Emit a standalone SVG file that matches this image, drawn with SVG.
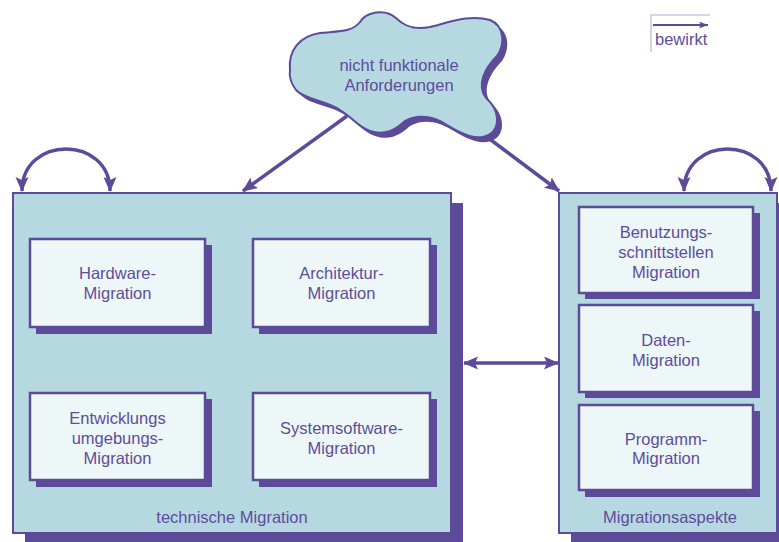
<svg xmlns="http://www.w3.org/2000/svg" width="779" height="542" viewBox="0 0 779 542">
<style>
.t{font-family:"Liberation Sans",Arial,sans-serif;font-size:16.5px;fill:#5d4d9c;text-anchor:middle}
.big{fill:#b6d9e1;stroke:#5d4a98;stroke-width:2}
.inner{fill:#eef7f7;stroke:#5d4a98;stroke-width:2.5}
.sh{fill:#5d4a98}
.con{fill:none;stroke:#5d4a98;stroke-width:3.5}
</style>
<defs>
<marker id="ah" markerUnits="userSpaceOnUse" markerWidth="16" markerHeight="14" refX="14" refY="6.5" orient="auto-start-reverse">
<path d="M0,0 L15,6.5 L0,13 L3,6.5 Z" fill="#5d4a98"/>
</marker>
<marker id="ahs" markerUnits="userSpaceOnUse" markerWidth="10" markerHeight="8" refX="9" refY="3.5" orient="auto">
<path d="M0,0 L9,3.5 L0,7 L2,3.5 Z" fill="#5d4a98"/>
</marker>
</defs>
<rect width="779" height="542" fill="#ffffff"/>

<g id="legend">
<path d="M651,52 V15 H710" fill="none" stroke="#cbc4e3" stroke-width="1.5"/>
<line x1="653" y1="25" x2="708" y2="25" stroke="#5d4a98" stroke-width="2" marker-end="url(#ahs)"/>
<text x="655" y="45" class="t" style="text-anchor:start">bewirkt</text>
</g>

<g id="cloud">
<path transform="translate(5,5)" class="sh" d="M290,70 C288,50 300,36 320,33 C340,31 352,32 360,22 C366,12 385,8 396,18 C405,27 415,30 430,27 C450,22 470,14 490,20 C505,26 505,45 497,56 C485,68 476,85 486,98 C500,110 500,128 490,134 C478,142 462,134 447,125 C435,117 418,113 405,121 C395,130 385,136 370,131 C358,127 352,117 340,110 C325,100 305,100 296,90 C290,82 289,76 290,70 Z"/>
<path fill="#b6d9e1" stroke="#5d4a98" stroke-width="2" d="M290,70 C288,50 300,36 320,33 C340,31 352,32 360,22 C366,12 385,8 396,18 C405,27 415,30 430,27 C450,22 470,14 490,20 C505,26 505,45 497,56 C485,68 476,85 486,98 C500,110 500,128 490,134 C478,142 462,134 447,125 C435,117 418,113 405,121 C395,130 385,136 370,131 C358,127 352,117 340,110 C325,100 305,100 296,90 C290,82 289,76 290,70 Z"/>
<text class="t" x="399" y="71">nicht funktionale</text>
<text class="t" x="399" y="91">Anforderungen</text>
</g>

<g id="technische">
<rect class="sh" x="25" y="203" width="438" height="340"/>
<rect class="big" x="13" y="193" width="438" height="340"/>
<text class="t" x="232" y="523">technische Migration</text>
</g>

<g id="hardware">
<rect class="sh" x="36" y="245" width="176" height="89"/>
<rect class="inner" x="30" y="239" width="175" height="88"/>
<text class="t" x="117.5" y="279">Hardware-</text>
<text class="t" x="117.5" y="299">Migration</text>
</g>

<g id="architektur">
<rect class="sh" x="259" y="245" width="178" height="89"/>
<rect class="inner" x="253" y="239" width="177" height="88"/>
<text class="t" x="341.5" y="279">Architektur-</text>
<text class="t" x="341.5" y="299">Migration</text>
</g>

<g id="entwicklung">
<rect class="sh" x="36" y="399" width="176" height="88"/>
<rect class="inner" x="30" y="393" width="175" height="87"/>
<text class="t" x="117.5" y="424">Entwicklungs</text>
<text class="t" x="117.5" y="444">umgebungs-</text>
<text class="t" x="117.5" y="464">Migration</text>
</g>

<g id="systemsoftware">
<rect class="sh" x="259" y="399" width="178" height="88"/>
<rect class="inner" x="253" y="393" width="177" height="87"/>
<text class="t" x="341.5" y="434">Systemsoftware-</text>
<text class="t" x="341.5" y="454">Migration</text>
</g>

<g id="aspekte">
<rect class="sh" x="571" y="203" width="218" height="340"/>
<rect class="big" x="559" y="193" width="218" height="340"/>
<text class="t" x="670" y="523">Migrationsaspekte</text>
</g>

<g id="benutzung">
<rect class="sh" x="585" y="213" width="175" height="86"/>
<rect class="inner" x="579" y="207" width="174" height="86"/>
<text class="t" x="666" y="238">Benutzungs-</text>
<text class="t" x="666" y="258">schnittstellen</text>
<text class="t" x="666" y="278">Migration</text>
</g>

<g id="daten">
<rect class="sh" x="585" y="311" width="175" height="87"/>
<rect class="inner" x="579" y="305" width="174" height="87"/>
<text class="t" x="666" y="346">Daten-</text>
<text class="t" x="666" y="366">Migration</text>
</g>

<g id="programm">
<rect class="sh" x="585" y="411" width="175" height="86"/>
<rect class="inner" x="579" y="405" width="174" height="85"/>
<text class="t" x="666" y="445">Programm-</text>
<text class="t" x="666" y="464">Migration</text>
</g>

<g id="connectors">
<line class="con" x1="347" y1="116" x2="243" y2="191" marker-end="url(#ah)"/>
<line class="con" x1="487" y1="137" x2="559" y2="191" marker-end="url(#ah)"/>
<line class="con" x1="464" y1="363" x2="558" y2="363" marker-start="url(#ah)" marker-end="url(#ah)"/>
<path class="con" d="M22,191 C22,135 110,135 110,191" marker-start="url(#ah)" marker-end="url(#ah)"/>
<path class="con" d="M684,191 C684,135 771,135 771,191" marker-start="url(#ah)" marker-end="url(#ah)"/>
</g>
</svg>
